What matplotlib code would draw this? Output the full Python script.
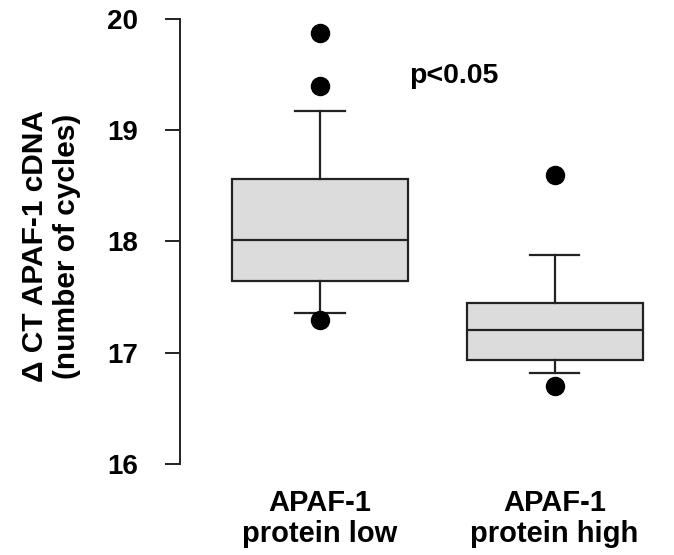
import numpy as np
import matplotlib
matplotlib.use('Agg')
import matplotlib.pyplot as plt

plt.rcParams['font.family'] = ['Liberation Sans', 'DejaVu Sans']
plt.rcParams['font.weight'] = 'bold'

# box statistics
groups = ['APAF-1\nprotein low', 'APAF-1\nprotein high']
q1 = [17.64, 16.93]
med = [18.01, 17.20]
q3 = [18.56, 17.45]
whislo = [17.36, 16.82]
whishi = [19.17, 17.88]
fliers = [[19.87, 19.40, 17.29], [18.60, 16.70]]

stats = []
for i in range(len(groups)):
    stats.append(dict(label=groups[i], q1=q1[i], med=med[i], q3=q3[i],
                      whislo=whislo[i], whishi=whishi[i], fliers=fliers[i]))

fig = plt.figure(figsize=(6.74, 5.55), dpi=100)
ax = fig.add_axes([0.267, 0.164, 0.73, 0.802])

lw = 1.6
ax.bxp(stats, positions=[1, 2], widths=0.75, patch_artist=True,
       boxprops=dict(facecolor='#dcdcdc', edgecolor='#222222', linewidth=lw),
       medianprops=dict(color='#222222', linewidth=lw),
       whiskerprops=dict(color='#222222', linewidth=lw),
       capprops=dict(color='#222222', linewidth=lw),
       capwidths=0.21,
       flierprops=dict(marker='o', markerfacecolor='black', markeredgecolor='black',
                       markersize=13))

ax.set_xlim(0.404, 2.5)
ax.set_ylim(16, 20)
ax.set_yticks([16, 17, 18, 19, 20])
for s in ['top', 'right', 'bottom']:
    ax.spines[s].set_visible(False)
ax.spines['left'].set_linewidth(1.4)
ax.spines['left'].set_color('#222222')
ax.tick_params(axis='y', length=11, width=1.4, pad=19, labelsize=20, color='#222222')
ax.tick_params(axis='x', length=0, pad=18, labelsize=21)
for lbl in ax.get_xticklabels():
    lbl.set_linespacing(1.12)

ax.set_ylabel('\u0394 CT APAF-1 cDNA\n(number of cycles)', fontsize=21.5,
              fontweight='bold', linespacing=1.2)
ax.yaxis.label.set_va('center')
ax.yaxis.set_label_coords(-0.262, 0.49)

ax.text(1.57, 19.49, 'p<0.05', fontsize=20.5, fontweight='bold', ha='center', va='center')

plt.savefig('out.png', dpi=100)
